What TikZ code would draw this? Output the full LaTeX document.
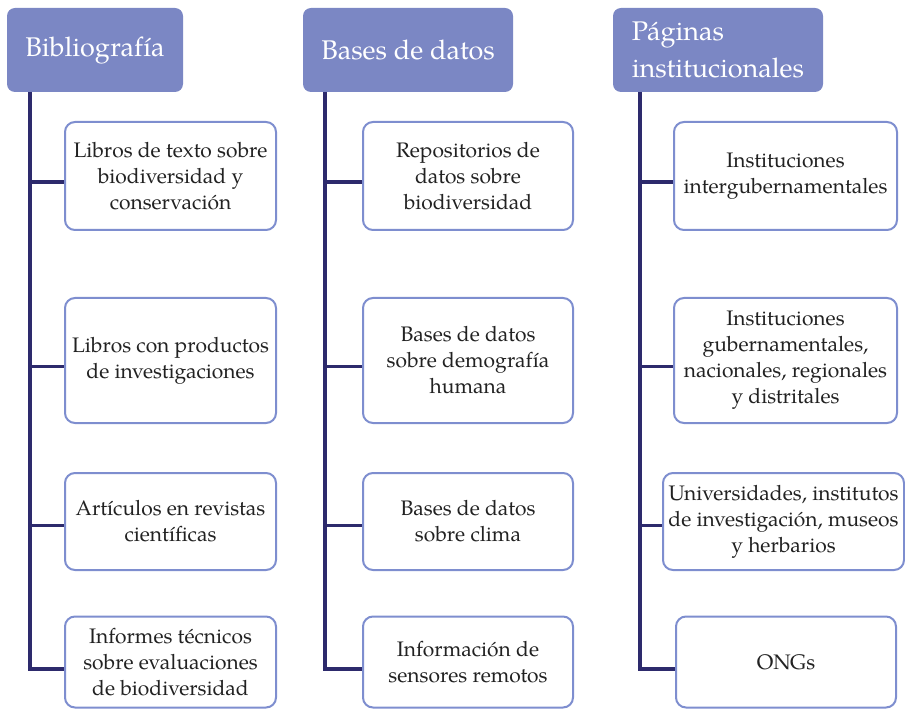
\documentclass[tikz,border=0pt]{standalone}
\usepackage{fontspec}
\setmainfont{TeX Gyre Pagella}
\definecolor{cabezacol}{HTML}{7B87C4}
\definecolor{bordecol}{HTML}{7E8ECF}
\definecolor{troncocol}{HTML}{2D2A6C}
\definecolor{letracol}{HTML}{222222}
\tikzset{
  cabeza/.style={rounded corners=8pt, fill=cabezacol, text=white, inner sep=0pt,
    minimum height=84pt, font=\fontsize{27}{37}\selectfont},
  hoja/.style={rounded corners=10pt, draw=bordecol, line width=2pt, fill=white,
    text=letracol, align=center, inner sep=0pt, font=\fontsize{21}{26}\selectfont},
  tronco/.style={draw=troncocol, line width=3.5pt},
}
% leaf box: name, centre, width, height, text
\newcommand\hoja[5]{%
\node[hoja, minimum width=#3, minimum height=#4] (#1) at (#2) {#5};
}

\begin{document}
\begin{tikzpicture}[x=1pt,y=-1pt]
	%% frame of the page
	\useasboundingbox (0,0) rectangle (905,711);

	%% headers
	\node[cabeza, minimum width=176pt] (h1) at (95,50) {Bibliografía};
	\node[cabeza, minimum width=210pt] (h2) at (408,50) {Bases de datos};
	\node[cabeza, minimum width=210pt, align=left] (h3) at (718,50) {Páginas\\institucionales};

	%% first column
	\hoja{b11}{170.5,176}{211pt}{108pt}{Libros de texto sobre\\biodiversidad y\\conservación}
	\hoja{b12}{170.5,360.5}{211pt}{125pt}{Libros con productos\\de investigaciones}
	\hoja{b13}{170.5,521.5}{211pt}{97pt}{Artículos en revistas\\científicas}
	\hoja{b14}{170.5,662}{211pt}{91pt}{Informes técnicos\\sobre evaluaciones\\de biodiversidad}

	%% second column
	\hoja{b21}{468,176}{210pt}{108pt}{Repositorios de\\datos sobre\\biodiversidad}
	\hoja{b22}{468,360.5}{210pt}{125pt}{Bases de datos\\sobre demografía\\humana}
	\hoja{b23}{468,521.5}{210pt}{97pt}{Bases de datos\\sobre clima}
	\hoja{b24}{468,662}{210pt}{91pt}{Información de\\sensores remotos}

	%% third column
	\hoja{b31}{785.5,176}{223pt}{108pt}{Instituciones\\intergubernamentales}
	\hoja{b32}{785.5,360.5}{223pt}{125pt}{Instituciones\\gubernamentales,\\nacionales, regionales\\y distritales}
	\hoja{b33}{783.5,521.5}{241pt}{97pt}{Universidades, institutos\\de investigación, museos\\y herbarios}
	\hoja{b34}{786,662}{220pt}{91pt}{ONGs}

	%% trunks (branches sit a little below the box centres)
	\coordinate (t1) at (30,92);
	\coordinate (t2) at (325,92);
	\coordinate (t3) at (640,92);

	\draw[tronco] (t1) |- ([yshift=-7pt]b14.west);
	\draw[tronco] (t1 |- b11.west) ++(0,6) -- ([yshift=-6pt]b11.west);
	\draw[tronco] (t1 |- b12.west) ++(0,6) -- ([yshift=-6pt]b12.west);
	\draw[tronco] (t1 |- b13.west) ++(0,4) -- ([yshift=-4pt]b13.west);

	\draw[tronco] (t2) |- ([yshift=-7pt]b24.west);
	\draw[tronco] (t2 |- b21.west) ++(0,6) -- ([yshift=-6pt]b21.west);
	\draw[tronco] (t2 |- b22.west) ++(0,6) -- ([yshift=-6pt]b22.west);
	\draw[tronco] (t2 |- b23.west) ++(0,4) -- ([yshift=-4pt]b23.west);

	\draw[tronco] (t3) |- ([yshift=-7pt]b34.west);
	\draw[tronco] (t3 |- b31.west) ++(0,6) -- ([yshift=-6pt]b31.west);
	\draw[tronco] (t3 |- b32.west) ++(0,6) -- ([yshift=-6pt]b32.west);
	\draw[tronco] (t3 |- b33.west) ++(0,4) -- ([yshift=-4pt]b33.west);
\end{tikzpicture}
\end{document}
